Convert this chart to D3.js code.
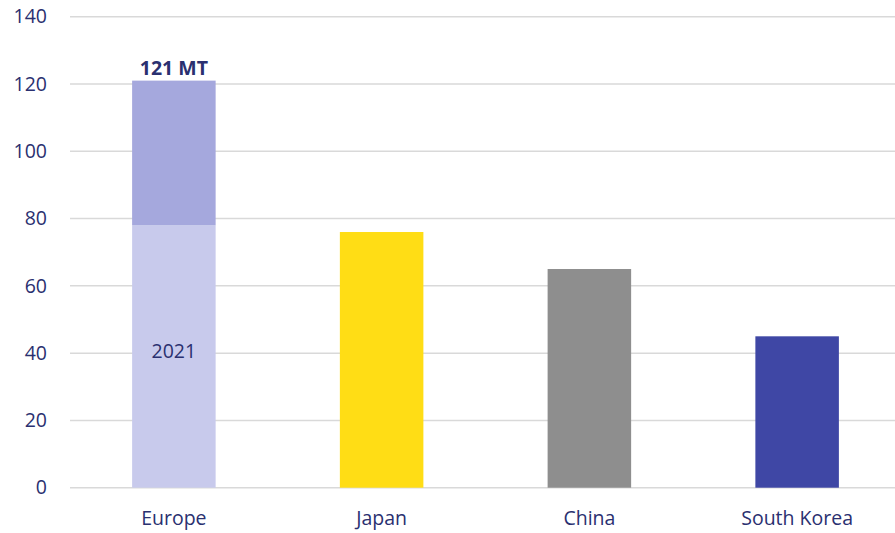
<!DOCTYPE html>
<html><head><meta charset="utf-8">
<script src="https://cdn.jsdelivr.net/npm/d3@7"></script>
<style>body{margin:0;background:#fff}svg{display:block}text{font-family:"Open Sans",sans-serif}</style>
</head><body><svg id="c" width="895" height="533"></svg>
<script>
const categories = ["Europe","Japan","China","South Korea"];
const baseValues = [78, 76, 65, 45];
const extraValues = [43, 0, 0, 0];
const baseColors = ["#C8CAEC","#FFDD15","#8E8E8E","#3F47A5"];
const extraColor = "#A5A8DD";
const yTicks = [0,20,40,60,80,100,120,140];
const totalLabel = "121 MT";
const innerLabel = "2021";

const svg = d3.select("#c");
const textColor = "#2A3070";
const font = "'Open Sans',sans-serif";
const fs = 19.5;
const x = d3.scaleBand().domain(categories).range([70, 901]).paddingInner(0.598).paddingOuter(0.299);
const y = d3.scaleLinear().domain([0,140]).range([487.7, 16.7]);

const grid = svg.append("g");
grid.selectAll("line").data(yTicks).join("line")
  .attr("x1", 70).attr("x2", 895)
  .attr("y1", d => y(d)).attr("y2", d => y(d))
  .attr("stroke", "#D9D9D9").attr("stroke-width", 1.5);

const yAxis = svg.append("g").attr("transform","translate(60,0)")
  .call(d3.axisLeft(y).tickValues(yTicks).tickSize(0).tickPadding(13));
yAxis.select(".domain").remove();
yAxis.selectAll("text").attr("font-size", fs).attr("fill", textColor).style("font-family", font);

svg.append("g").selectAll("rect").data(categories).join("rect")
  .attr("x", d => x(d)).attr("width", x.bandwidth())
  .attr("y", (d,i) => y(baseValues[i])).attr("height", (d,i) => y(0) - y(baseValues[i]))
  .attr("fill", (d,i) => baseColors[i]);

svg.append("g").selectAll("rect").data(categories.filter((d,i)=>extraValues[i]>0)).join("rect")
  .attr("x", d => x(d)).attr("width", x.bandwidth())
  .attr("y", d => { const i = categories.indexOf(d); return y(baseValues[i]+extraValues[i]); })
  .attr("height", d => { const i = categories.indexOf(d); return y(baseValues[i]) - y(baseValues[i]+extraValues[i]); })
  .attr("fill", extraColor);

const xAxis = svg.append("g").attr("transform", `translate(0,${y(0)})`)
  .call(d3.axisBottom(x).tickSize(0).tickPadding(23));
xAxis.select(".domain").remove();
xAxis.selectAll("text").attr("font-size", fs).attr("fill", textColor).style("font-family", font);

const cx = x("Europe") + x.bandwidth()/2;
svg.append("text").attr("x", cx).attr("y", y(baseValues[0]+extraValues[0]) - 6)
  .attr("text-anchor","middle").attr("font-size", fs).attr("font-weight","bold").attr("fill", textColor).text(totalLabel);
svg.append("text").attr("x", cx).attr("y", 358)
  .attr("text-anchor","middle").attr("font-size", fs).attr("fill", textColor).text(innerLabel);
</script></body></html>
